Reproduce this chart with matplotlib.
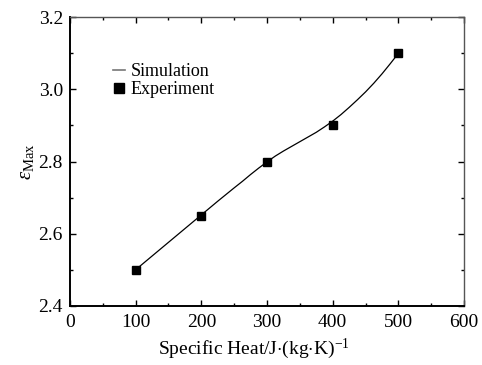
import matplotlib
matplotlib.use("Agg")
import matplotlib.pyplot as plt
from matplotlib.ticker import MultipleLocator, FormatStrFormatter
from matplotlib.lines import Line2D

plt.rcParams['font.family'] = ['Liberation Serif', 'DejaVu Serif']
plt.rcParams['mathtext.fontset'] = 'custom'
plt.rcParams['mathtext.rm'] = 'Liberation Serif'
plt.rcParams['mathtext.it'] = 'Liberation Serif:italic'

# Experiment data
exp_x = [100, 200, 300, 400, 500]
exp_y = [2.50, 2.65, 2.80, 2.90, 3.10]

# Simulation curve
sim_x = [100, 125, 150, 175, 200, 225, 250, 262.5, 275, 287.5, 300, 312.5, 325, 337.5,
         350, 362.5, 375, 387.5, 400, 412.5, 425, 437.5, 450, 462.5, 475, 487.5, 500]
sim_y = [2.500, 2.538, 2.576, 2.614, 2.652, 2.690, 2.727, 2.745, 2.764, 2.782, 2.799,
         2.815, 2.829, 2.842, 2.855, 2.868, 2.881, 2.896, 2.912, 2.930, 2.950,
         2.971, 2.993, 3.017, 3.043, 3.071, 3.100]

fig = plt.figure(figsize=(4.82, 3.65), dpi=100)
ax = fig.add_axes([0.145, 0.162, 0.818, 0.791])

ax.plot(sim_x, sim_y, color='black', lw=0.9)
ax.plot(exp_x, exp_y, linestyle='none', marker='s', ms=6, color='black')

ax.set_xlim(0, 600)
ax.set_ylim(2.4, 3.2)
ax.xaxis.set_major_locator(MultipleLocator(100))
ax.xaxis.set_minor_locator(MultipleLocator(50))
ax.yaxis.set_major_locator(MultipleLocator(0.2))
ax.yaxis.set_minor_locator(MultipleLocator(0.1))
ax.yaxis.set_major_formatter(FormatStrFormatter('%.1f'))

ax.tick_params(which='both', direction='in', top=True, right=True, labelsize=14)
ax.tick_params(which='major', length=4, width=1)
ax.tick_params(which='minor', length=2.5, width=1)
ax.tick_params(axis='x', pad=6)
ax.tick_params(axis='y', pad=5)

for s in ['left', 'bottom']:
    ax.spines[s].set_linewidth(1.4)
    ax.spines[s].set_color('black')
for s in ['top', 'right']:
    ax.spines[s].set_linewidth(1.0)
    ax.spines[s].set_color('#555555')

ax.set_xlabel(r'Specific Heat/J$\cdot$(kg$\cdot$K)$^{\mathregular{-1}}$', fontsize=14)
ax.xaxis.set_label_coords(0.466, -0.105)
ax.set_ylabel(r'$\varepsilon_{\mathregular{Max}}$', fontsize=15, labelpad=2)

handles = [Line2D([], [], color='#777777', lw=1.2),
           Line2D([], [], linestyle='none', marker='s', ms=7, color='black')]
ax.legend(handles, ['Simulation', 'Experiment'], loc='upper left',
          bbox_to_anchor=(0.09, 0.865), frameon=False, fontsize=13,
          handlelength=0.7, handletextpad=0.3, labelspacing=0.05, borderaxespad=0)

fig.savefig('out.png', dpi=100)
